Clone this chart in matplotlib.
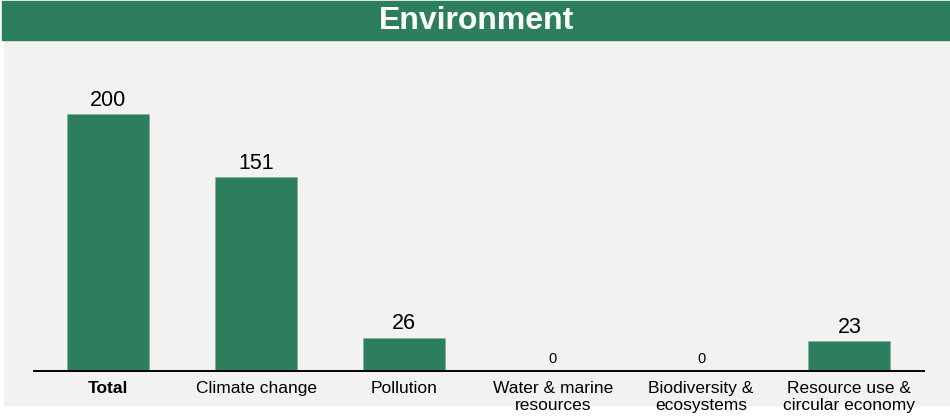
import matplotlib.pyplot as plt
from matplotlib.patches import Rectangle

plt.rcParams['font.family'] = ['Liberation Sans', 'DejaVu Sans']

categories = ["Total", "Climate change", "Pollution", "Water & marine\nresources",
              "Biodiversity &\necosystems", "Resource use &\ncircular economy"]
values = [200, 151, 26, 0, 0, 23]

green = '#2c7e5c'

fig = plt.figure(figsize=(9.5, 4.17), dpi=100)
W, H = 950, 417

# grey panel and title bar
fig.patches.append(Rectangle((4 / W, (H - 405) / H), 946 / W, 365 / H,
                             transform=fig.transFigure, color='#f2f2f2', zorder=-2))
fig.patches.append(Rectangle((2 / W, (H - 40) / H), 948 / W, 39 / H,
                             transform=fig.transFigure, color=green, zorder=-1))
fig.text(476 / W, (H - 21) / H, "Environment", color='white', fontsize=23,
         fontweight='bold', ha='center', va='center')

ax = fig.add_axes([33.5 / W, (H - 371) / H, 890 / W, 321 / H])
ax.set_zorder(1)
ax.patch.set_visible(False)
x = range(len(categories))
ax.bar(x, values, width=0.553, color=green, edgecolor='#7fae97', linewidth=0.4)
ax.set_xlim(-0.5, 5.5)
ax.set_ylim(0, 250)

for i, v in enumerate(values):
    fs = 15.5 if v > 0 else 10.5
    ax.annotate(str(v), (i, v), xytext=(0, 6), textcoords='offset points',
                ha='center', va='baseline', fontsize=fs, color='black')

for s in ['top', 'right', 'left']:
    ax.spines[s].set_visible(False)
ax.spines['bottom'].set_linewidth(1.4)
ax.spines['bottom'].set_color('black')
ax.set_yticks([])
ax.set_xticks(list(x))
ax.set_xticklabels(categories, fontsize=12.5, linespacing=1.15)
ax.tick_params(axis='x', length=0, pad=7)
ax.get_xticklabels()[0].set_fontweight('bold')

plt.savefig('out.png', dpi=100)
